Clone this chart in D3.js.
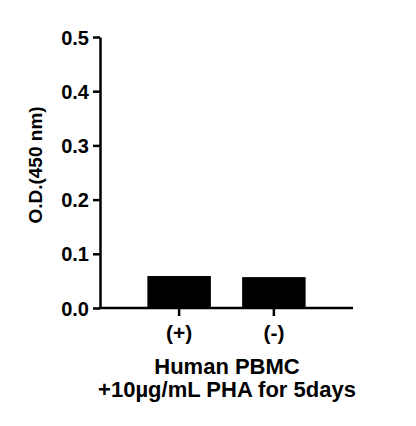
<!DOCTYPE html>
<html>
<head>
<meta charset="utf-8">
<script src="https://cdn.jsdelivr.net/npm/d3@7"></script>
<style>
    html, body { margin: 0; padding: 0; background: #fff; }
    svg { display: block; }
    .axis path, .axis line { stroke: #000; stroke-width: 2.5; }
    .axis text { font-family: "Liberation Sans", Arial, sans-serif; font-weight: bold; fill: #000; }
</style>
</head>
<body>
<svg id="chart"></svg>
<script>
// Data
const groups = ["(+)", "(-)"];
const odValues = [0.059, 0.057];
const yTicks = [0, 0.1, 0.2, 0.3, 0.4, 0.5];
const yLabel = "O.D.(450 nm)";
const xTitle = ["Human PBMC", "+10\u00b5g/mL PHA for 5days"];

document.addEventListener('DOMContentLoaded', function () {
    const svgWidth = 416;
    const svgHeight = 426;
    const margin = { top: 37, right: 63, bottom: 118, left: 100 };
    const width = svgWidth - margin.left - margin.right;
    const height = svgHeight - margin.top - margin.bottom;

    const svg = d3.select("#chart")
        .attr("width", svgWidth)
        .attr("height", svgHeight)
        .append("g")
        .attr("transform", `translate(${margin.left},${margin.top})`);

    // X scale (groups)
    const x = d3.scaleBand()
        .domain(groups)
        .range([0, width])
        .paddingInner(0.33)
        .paddingOuter(0.5);

    // Y scale (O.D.)
    const y = d3.scaleLinear()
        .domain([0, 0.5])
        .range([height, 0]);

    // Bars
    svg.selectAll("rect.bar")
        .data(odValues)
        .join("rect")
        .attr("class", "bar")
        .attr("x", (d, i) => x(groups[i]))
        .attr("y", d => y(d))
        .attr("width", x.bandwidth())
        .attr("height", d => y(0) - y(d))
        .attr("fill", "#000");

    // Y axis
    const yAxis = svg.append("g")
        .attr("class", "axis y-axis")
        .call(d3.axisLeft(y)
            .tickValues(yTicks)
            .tickSize(7)
            .tickPadding(4)
            .tickSizeOuter(0)
            .tickFormat(d3.format(".1f")));
    yAxis.selectAll("text").attr("font-size", 20).attr("dy", "0.35em");

    // X axis
    const xAxis = svg.append("g")
        .attr("class", "axis x-axis")
        .attr("transform", `translate(0,${height})`)
        .call(d3.axisBottom(x)
            .tickSize(8)
            .tickPadding(9)
            .tickSizeOuter(0));
    xAxis.selectAll("text").attr("font-size", 21);
    xAxis.select(".domain").attr("d", `M-1.25,0H${width}`);

    // Y axis label
    svg.append("text")
        .attr("text-anchor", "middle")
        .attr("transform", "rotate(-90)")
        .attr("x", -(165 - margin.top))
        .attr("y", -58)
        .attr("font-family", "Liberation Sans, Arial, sans-serif")
        .attr("font-weight", "bold")
        .attr("font-size", 19)
        .text(yLabel);

    // X axis title, two lines
    svg.append("text")
        .attr("text-anchor", "middle")
        .attr("font-family", "Liberation Sans, Arial, sans-serif")
        .attr("font-weight", "bold")
        .attr("font-size", 22)
        .selectAll("tspan")
        .data(xTitle)
        .join("tspan")
        .attr("x", 227 - margin.left)
        .attr("y", (d, i) => 374 - margin.top + i * 22.5)
        .text(d => d);
});
</script>
</body>
</html>
